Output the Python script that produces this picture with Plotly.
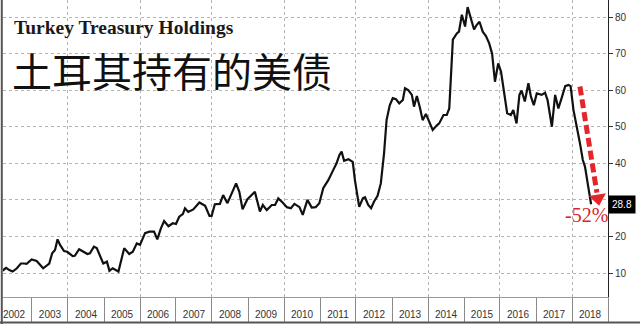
import plotly.graph_objects as go
from datetime import datetime, timedelta

# ---- data (decimal years, USD bn) ----
time_yr = [
    2002.16, 2002.28, 2002.37, 2002.46, 2002.58, 2002.69, 2002.78, 2002.85, 2002.99,
    2003.13, 2003.31, 2003.48, 2003.56, 2003.64, 2003.71, 2003.78, 2003.89, 2003.98,
    2004.13, 2004.19, 2004.31, 2004.42, 2004.54, 2004.61, 2004.72, 2004.80, 2004.89, 2004.98,
    2005.08, 2005.15, 2005.24, 2005.40, 2005.56, 2005.70, 2005.80, 2005.91,
    2006.00, 2006.14, 2006.26, 2006.39, 2006.48, 2006.58, 2006.67, 2006.79, 2006.91,
    2007.00, 2007.09, 2007.19, 2007.25, 2007.34, 2007.48, 2007.65, 2007.81, 2007.93, 2007.99,
    2008.08, 2008.22, 2008.31, 2008.43, 2008.55, 2008.67, 2008.76, 2008.85, 2008.98,
    2009.19, 2009.33, 2009.41, 2009.52, 2009.66, 2009.75, 2009.84, 2009.96,
    2010.08, 2010.19, 2010.29, 2010.43, 2010.52, 2010.65, 2010.77, 2010.88, 2010.98,
    2011.09, 2011.23, 2011.37, 2011.46, 2011.54, 2011.60, 2011.67, 2011.79, 2011.91, 2011.97,
    2012.09, 2012.19, 2012.25, 2012.34, 2012.42, 2012.50, 2012.60, 2012.69, 2012.78, 2012.85, 2012.94,
    2013.02, 2013.11, 2013.20, 2013.30, 2013.36, 2013.45, 2013.55, 2013.61, 2013.69, 2013.78, 2013.85, 2013.94,
    2014.05, 2014.13, 2014.24, 2014.31, 2014.43, 2014.52, 2014.59, 2014.69, 2014.80, 2014.86, 2014.94,
    2015.03, 2015.10, 2015.19, 2015.28, 2015.35, 2015.43, 2015.52, 2015.61, 2015.70, 2015.78, 2015.86, 2015.95,
    2016.03, 2016.11, 2016.20, 2016.30, 2016.37, 2016.46, 2016.54, 2016.60, 2016.69, 2016.79, 2016.86, 2016.94,
    2017.02, 2017.16, 2017.25, 2017.32, 2017.44, 2017.53, 2017.62, 2017.71, 2017.81, 2017.90, 2017.96,
    2018.04, 2018.13, 2018.22, 2018.30, 2018.36, 2018.45, 2018.53,
]
holdings = [
    10.5, 11.4, 10.8, 10.4, 11.3, 12.6, 12.6, 12.5, 13.7,
    13.3, 11.3, 12.6, 15.4, 16.3, 19.2, 17.7, 16.0, 15.8,
    14.6, 14.7, 16.5, 15.8, 15.2, 15.4, 17.2, 16.8, 14.9, 12.6,
    13.1, 10.6, 11.3, 10.4, 16.8, 15.2, 15.8, 18.1,
    17.7, 20.9, 21.3, 21.3, 19.2, 22.2, 24.2, 22.8, 23.6,
    23.4, 25.4, 26.1, 27.7, 26.7, 27.4, 29.3, 28.4, 25.6, 25.6,
    28.8, 28.9, 31.3, 29.1, 31.8, 34.5, 32.2, 27.4, 30.1,
    32.2, 26.8, 28.6, 27.2, 28.6, 28.6, 30.4, 29.3,
    28.0, 27.7, 28.9, 28.0, 25.9, 30.0, 27.9, 28.0, 29.1,
    33.2, 35.4, 38.2, 40.0, 42.3, 43.2, 40.7, 41.1, 40.4, 35.4,
    28.1, 30.4, 30.7, 28.6, 27.7, 29.5, 31.1, 34.5, 42.7, 51.8, 55.9,
    57.8, 57.5, 56.4, 57.3, 60.5, 60.0, 58.7, 55.5, 58.4, 55.0, 51.8, 53.5,
    50.7, 49.1, 50.3, 50.9, 53.2, 53.2, 55.0, 73.8, 75.5, 76.0, 80.6,
    77.4, 82.7, 79.6, 76.6, 77.8, 78.7, 76.0, 74.8, 72.8, 70.0, 62.3, 67.3,
    65.0, 60.0, 53.7, 53.2, 54.6, 50.9, 58.7, 59.9, 56.9, 61.9, 58.2, 55.9,
    59.1, 58.7, 59.3, 57.3, 50.0, 58.7, 55.0, 57.8, 61.1, 61.4, 61.1,
    54.6, 50.5, 45.5, 40.9, 39.1, 33.6, 28.8,
]
last_value = 28.8
change_label = "-52%"
title_en = "Turkey Treasury Holdings"
title_cn = "土耳其持有的美债"

y_tick_vals = [10, 20, 30, 40, 50, 60, 70, 80]
y_tick_text = ["10", "20", "", "40", "50", "60", "70", "80"]  # 30 hidden behind last-value tag

arrow_t = [2018.22, 2018.69]
arrow_v = [61.0, 32.0]
head_t = [2018.72]
head_v = [30.4]


def to_date(y):
    yr = int(y)
    return datetime(yr, 1, 1) + timedelta(days=(y - yr) * 365.25)


dates = [to_date(t) for t in time_yr]
x_range = [to_date(2002.194), to_date(2019.0)]

fig = go.Figure()
fig.add_trace(go.Scatter(x=dates, y=holdings, mode="lines",
                         line=dict(color="#111111", width=2.2),
                         hoverinfo="skip", showlegend=False))
fig.add_trace(go.Scatter(x=[to_date(t) for t in arrow_t], y=arrow_v, mode="lines",
                         line=dict(color="#e3262b", width=5, dash="9px,4px"),
                         hoverinfo="skip", showlegend=False))
fig.add_trace(go.Scatter(x=[to_date(t) for t in head_t], y=head_v, mode="markers",
                         marker=dict(symbol="triangle-down", size=15, color="#e3262b", angle=-9,
                                     line=dict(width=0)),
                         hoverinfo="skip", showlegend=False))
# carrier for gridline / tick axis
fig.add_trace(go.Scatter(x=x_range, y=[None, None], xaxis="x2", mode="markers",
                         marker=dict(opacity=0), hoverinfo="skip", showlegend=False))

fig.update_layout(
    width=640, height=324,
    margin=dict(l=3, r=32, t=0, b=27),
    plot_bgcolor="white", paper_bgcolor="white",
    xaxis=dict(type="date", range=x_range, tick0="2002-01-01", dtick="M12",
               tickformat="%Y", ticklabelmode="period",
               ticks="outside", ticklen=8, tickcolor="rgba(0,0,0,0)",
               showgrid=False, zeroline=False,
               showline=True, linecolor="#9a9a9a", linewidth=1,
               tickfont=dict(family="Liberation Sans", size=10, color="#333333")),
    xaxis2=dict(type="date", range=x_range, overlaying="x", anchor="y", side="bottom",
                tick0="2004-01-01", dtick="M24", showticklabels=False,
                ticks="outside", ticklen=24, tickcolor="#8a8a8a", tickwidth=1,
                minor=dict(dtick="M12", ticks="outside", ticklen=24, tickcolor="#8a8a8a",
                           showgrid=False),
                showgrid=True, gridcolor="#b4b4b4", griddash="dot", gridwidth=1,
                zeroline=False, showline=False),
    yaxis=dict(side="right", range=[3.44, 84.65], tickmode="array",
               tickvals=y_tick_vals, ticktext=y_tick_text,
               ticks="outside", ticklen=4, tickcolor="#333333",
               showline=True, linecolor="#222222", linewidth=1,
               showgrid=True, gridcolor="#b4b4b4", griddash="dot", gridwidth=1,
               zeroline=False,
               tickfont=dict(family="Liberation Sans", size=10, color="#333333")),
    annotations=[
        dict(text="<b>" + title_en + "</b>", xref="paper", yref="paper",
             x=0.0155, y=0.907, xanchor="left", yanchor="middle", showarrow=False,
             font=dict(family="Liberation Serif", size=19.5, color="#1a1a1a")),
        dict(text=title_cn, xref="paper", yref="paper",
             x=0.012, y=0.765, xanchor="left", yanchor="middle", showarrow=False,
             font=dict(family="Noto Sans CJK SC", size=40, color="#111111")),
        dict(text=change_label, x=to_date(2018.39), y=25.8, xref="x", yref="y",
             showarrow=False,
             font=dict(family="Liberation Serif", size=20, color="#d8262b")),
        dict(text=f"{last_value:.1f}", xref="paper", yref="y", x=1.0, y=last_value,
             xanchor="left", yanchor="middle", showarrow=False, bgcolor="#000000",
             borderpad=3, font=dict(family="Liberation Sans", size=10, color="white")),
    ],
    shapes=[
        dict(type="line", xref="paper", yref="paper", x0=-0.002, x1=-0.002, y0=-0.1, y1=1.0,
             line=dict(color="#555555", width=2)),
        dict(type="line", xref="paper", yref="paper", x0=-0.01, x1=1.06, y0=-0.0859, y1=-0.0859,
             line=dict(color="#555555", width=2)),
    ],
)

fig.write_html("out.html")
